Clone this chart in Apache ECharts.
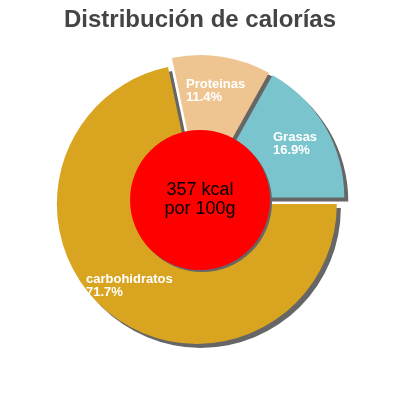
<!DOCTYPE html>
<html>
<head>
<meta charset="utf-8">
<script src="https://cdn.jsdelivr.net/npm/echarts@6/dist/echarts.min.js"></script>
<style>
html,body{margin:0;padding:0;background:#fff;}
#c{width:400px;height:400px;}
</style>
</head>
<body>
<div id="c"></div>
<script>
var titleText = 'Distribución de calorías';
var categories = ['carbohidratos', 'Proteinas', 'Grasas'];
var percents = [71.7, 11.4, 16.9];
var centerLines = ['357 kcal', 'por 100g'];

var colors = ['#D9A521', '#EEC591', '#7AC5CD'];
// label anchor positions (top-left of each label), layout only
var labelPos = [[86, 273], [186, 78], [273, 131]];

var chart = echarts.init(document.getElementById('c'), null, {renderer: 'canvas'});
var pieData = categories.map(function (n, i) {
  return {name: n, value: percents[i], selected: true, itemStyle: {color: colors[i]}};
});
var labelGraphics = categories.map(function (n, i) {
  return {
    type: 'text',
    x: labelPos[i][0],
    y: labelPos[i][1],
    z: 100,
    silent: true,
    style: {
      text: n + '\n' + percents[i].toFixed(1) + '%',
      fill: '#ffffff',
      font: 'bold 13px "Liberation Sans"',
      lineHeight: 13,
      align: 'left',
      verticalAlign: 'top'
    }
  };
});
chart.setOption({
  animation: false,
  title: {
    text: titleText,
    left: 'center',
    top: 3,
    textStyle: {fontFamily: 'Liberation Sans', fontSize: 24, fontWeight: 'bold', color: '#444444'}
  },
  graphic: labelGraphics,
  series: [
    {
      type: 'pie',
      center: [200, 200],
      radius: [0, 140],
      startAngle: 0,
      clockwise: true,
      selectedMode: 'multiple',
      selectedOffset: 5,
      emphasis: {disabled: true},
      itemStyle: {shadowColor: '#666666', shadowBlur: 0, shadowOffsetX: 4, shadowOffsetY: 4},
      label: {show: false},
      labelLine: {show: false},
      data: pieData,
      z: 2
    },
    {
      type: 'pie',
      center: [200, 200],
      radius: [0, 70],
      silent: true,
      emphasis: {disabled: true},
      itemStyle: {color: '#FF0000', shadowColor: '#666666', shadowBlur: 0, shadowOffsetX: 2, shadowOffsetY: 2},
      label: {
        show: true,
        position: 'center',
        formatter: centerLines.join('\n'),
        color: '#000000',
        fontFamily: 'Liberation Sans',
        fontSize: 18,
        lineHeight: 19
      },
      labelLine: {show: false},
      data: [{name: 'kcal', value: 1}],
      z: 3
    }
  ]
});
</script>
</body>
</html>
